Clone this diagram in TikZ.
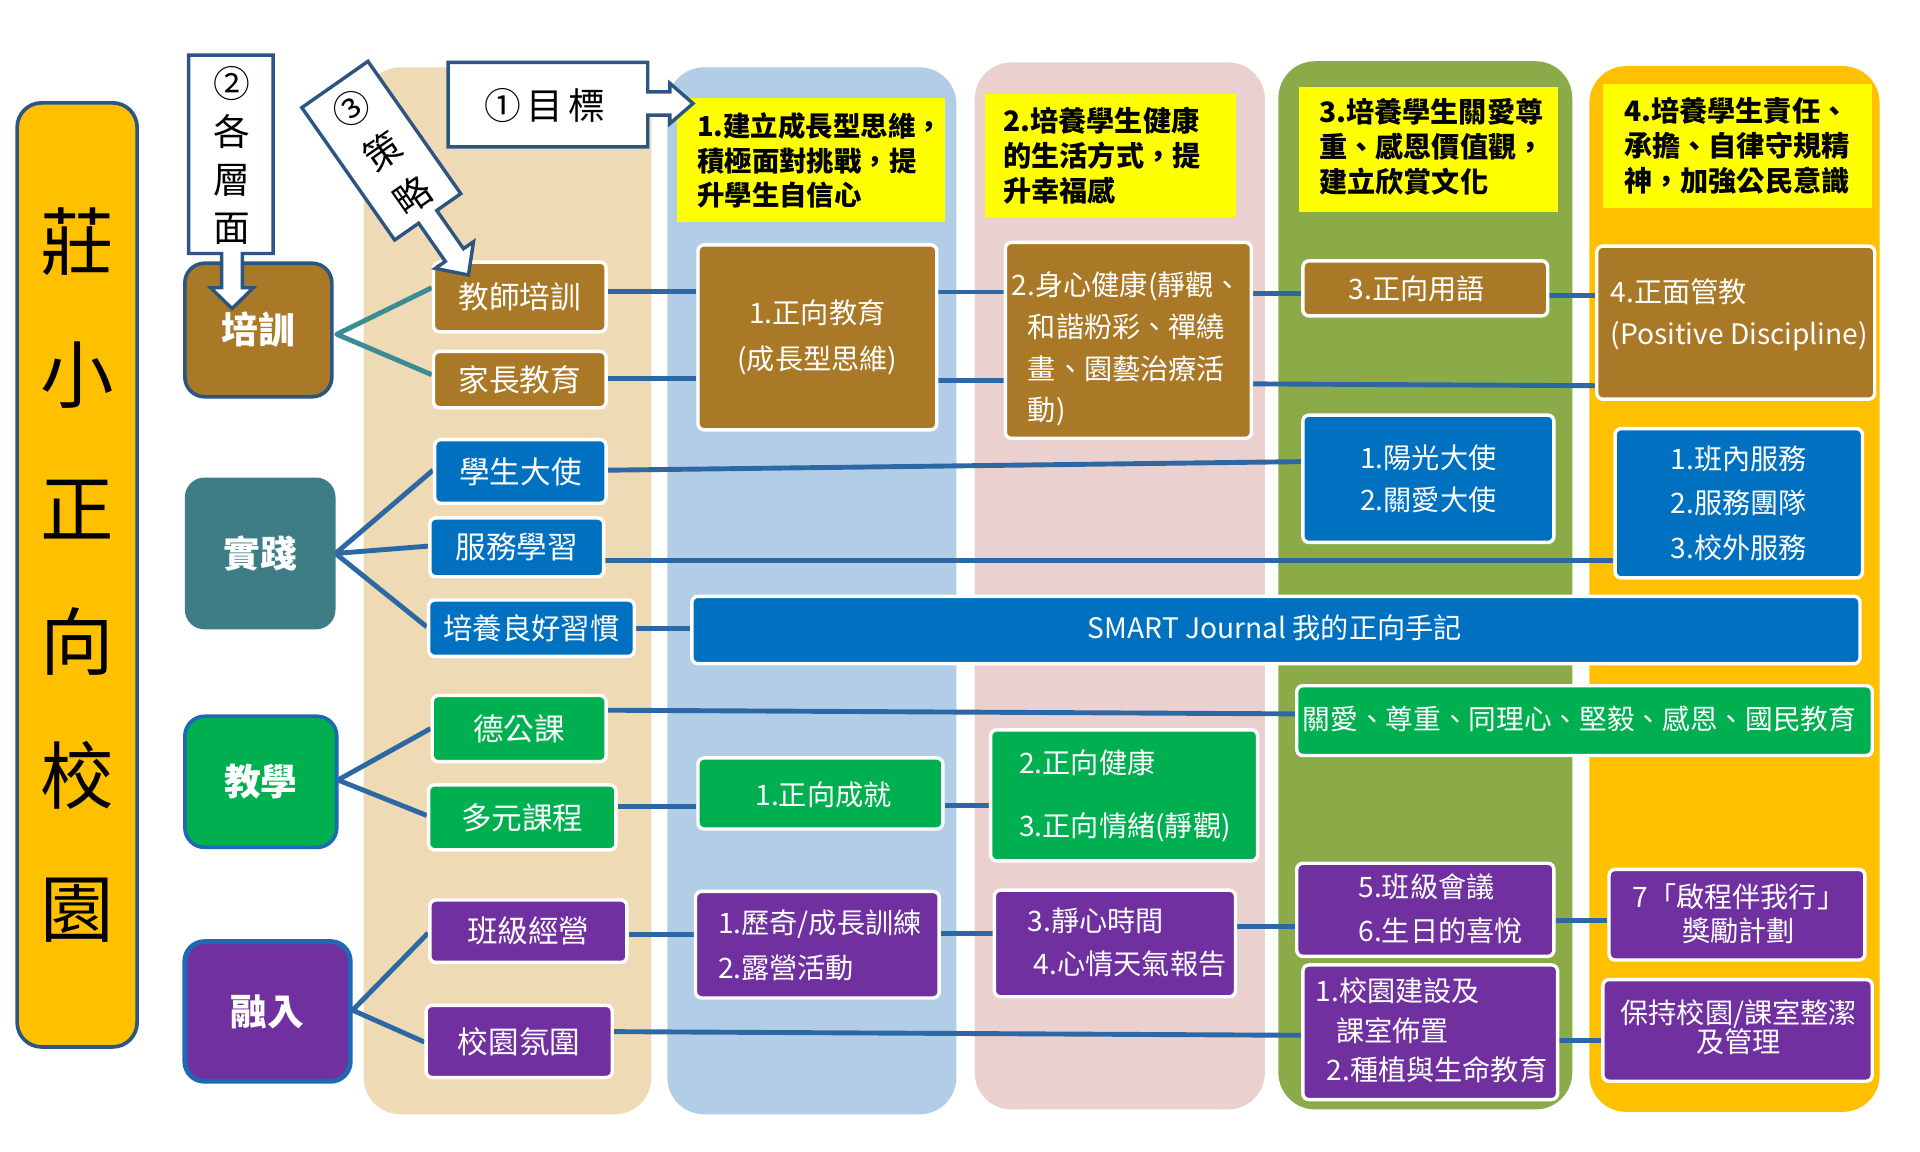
\documentclass[tikz,border=0pt]{standalone}
\usepackage{fontspec}
\setmainfont{Noto Sans CJK TC}
\usetikzlibrary{calc}
\definecolor{cbrn}{RGB}{170,121,40}
\definecolor{cblu}{RGB}{0,112,192}
\definecolor{cgrn}{RGB}{0,176,80}
\definecolor{cpur}{RGB}{112,48,160}
\definecolor{cteal}{RGB}{62,124,134}
\definecolor{corg}{RGB}{255,192,0}
\definecolor{cyel}{RGB}{255,255,0}
\definecolor{bgbeige}{RGB}{238,218,180}
\definecolor{bgblue}{RGB}{178,205,230}
\definecolor{bgpink}{RGB}{235,208,208}
\definecolor{bgolive}{RGB}{139,170,72}
\definecolor{bgorg}{RGB}{255,192,0}
\definecolor{cline}{RGB}{46,104,164}
\definecolor{ctline}{RGB}{60,140,150}
\definecolor{cnavy}{RGB}{45,85,130}
\definecolor{cedge}{RGB}{30,105,180}
\pgfdeclarelayer{bg}
\pgfdeclarelayer{lines}
\pgfsetlayers{bg,lines,main}
\newcommand\bx[7]{\node[#6, minimum width={(#4-(#2))*0.5}, minimum height={(#5-(#3))*0.5}] (#1) at ({(#2+#4)/2},{(#3+#5)/2}) {#7};}
\tikzset{
  box/.style={draw=white, line width=1.4pt, rounded corners=2.5pt, inner sep=0pt, text=white, font=\fontsize{11.5}{17}\selectfont, align=center},
  sbox/.style={box, font=\fontsize{12.5}{15}\selectfont},
  goal/.style={fill=cyel, inner sep=0pt},
  gtxt/.style={anchor=west, align=left, inner sep=0pt, font=\bfseries\fontsize{11.5}{14.2}\selectfont, text=black},
  ttxt/.style={inner sep=0pt, text=white, font=\fontsize{11.5}{17}\selectfont},
  layerbox/.style={rounded corners=8pt, line width=1.5pt, inner sep=0pt, text=white, font=\bfseries\fontsize{15}{18}\selectfont},
  cn/.style={draw=cline, line width=2pt, line join=round},
  tcn/.style={draw=ctline, line width=2pt, line join=round},
  callout/.style={fill=white, draw=cnavy, line width=1.4pt, line join=miter},
  calltext/.style={inner sep=0pt, font=\fontsize{15}{19.5}\selectfont, text=black, align=center},
}
\begin{document}
\begin{tikzpicture}[x=0.5pt,y=-0.5pt]
\useasboundingbox (0,0) rectangle (1568,940.8);
\begin{pgfonlayer}{bg}
\fill[white] (0,0) rectangle (1568,940.8);
\fill[bgbeige, rounded corners=15pt] (297,55) rectangle (532,910);
\fill[bgblue, rounded corners=15pt] (545,55) rectangle (781,910);
\fill[bgpink, rounded corners=15pt] (796,51) rectangle (1033,906);
\fill[bgolive, rounded corners=15pt] (1044,50) rectangle (1284,906);
\fill[bgorg, rounded corners=15pt] (1298,54) rectangle (1535,908);
\end{pgfonlayer}

% title
\bx{title}{14}{84}{112}{855}{fill=corg, draw=cnavy, line width=1.5pt, rounded corners=10pt, inner sep=0pt, align=center, font=\fontsize{30}{54.5}\selectfont}{莊\\小\\正\\向\\校\\園}

% goals
\bx{g1}{553}{80}{772}{181}{goal}{}
\node[gtxt, font=\bfseries\fontsize{11.2}{14.2}\selectfont] (g1t) at (569,131) {1.建立成長型思維，\\積極面對挑戰，提\\升學生自信心};
\bx{g2}{804}{77}{1009}{177}{goal}{}
\node[gtxt] (g2t) at (819,127) {2.培養學生健康\\的生活方式，提\\升幸福感};
\bx{g3}{1061}{71}{1272}{173}{goal}{}
\node[gtxt] (g3t) at (1077,120) {3.培養學生關愛尊\\重、感恩價值觀，\\建立欣賞文化};
\bx{g4}{1309}{69}{1529}{170}{goal}{}
\node[gtxt] (g4t) at (1326,119) {4.培養學生責任、\\承擔、自律守規精\\神，加強公民意識};

% layer boxes
\bx{px}{151}{215}{271}{324}{layerbox, fill=cbrn, draw=cnavy}{培訓}
\bx{sj}{151}{390}{274}{514}{layerbox, fill=cteal}{實踐}
\bx{jxue}{151}{585}{275}{692}{layerbox, fill=cgrn, draw=cedge}{教學}
\bx{rr}{151}{769}{286}{883}{layerbox, fill=cpur, draw=cedge, line width=2pt}{融入}

% strategy boxes
\bx{tt}{354}{214}{495}{271}{sbox, fill=cbrn}{教師培訓}
\bx{pe}{354}{287}{495}{333}{sbox, fill=cbrn}{家長教育}
\bx{sa}{355}{359}{495}{411}{sbox, fill=cblu}{學生大使}
\bx{sl}{351}{423}{493}{471}{sbox, fill=cblu}{服務學習}
\bx{gh}{350}{490}{518}{536}{sbox, fill=cblu, font=\fontsize{12}{15}\selectfont}{培養良好習慣}
\bx{dg}{353}{568}{495}{622}{sbox, fill=cgrn}{德公課}
\bx{dy}{350}{641}{503}{694}{sbox, fill=cgrn}{多元課程}
\bx{bj}{351}{735}{512}{786}{sbox, fill=cpur}{班級經營}
\bx{xy}{348}{821}{500}{880}{sbox, fill=cpur}{校園氛圍}

% column boxes
\bx{pe1}{570}{200}{765}{351}{box, fill=cbrn, font=\fontsize{11.5}{19}\selectfont}{1.正向教育\\(成長型思維)}
\bx{bm}{821}{198}{1022}{358}{box, fill=cbrn}{}
\node[ttxt, anchor=west, align=left] (bmt) at (826,285) {2.身心健康(靜觀、\\\hspace*{6.5pt}和諧粉彩、禪繞\\\hspace*{6.5pt}畫、園藝治療活\\\hspace*{6.5pt}動)};
\bx{zy}{1064}{213}{1264}{258}{box, fill=cbrn}{}
\node[ttxt] (zyt) at (1157,235.5) {3.正向用語};
\bx{zg}{1304}{201}{1531}{326}{box, fill=cbrn}{}
\node[ttxt, anchor=west, align=left, font=\fontsize{11.5}{17.25}\selectfont] (zgt) at (1315,257) {4.正面管教\\(Positive Discipline)};
\bx{yg}{1064}{339}{1269}{443}{box, fill=cblu, font=\fontsize{11.5}{17.5}\selectfont}{1.陽光大使\\2.關愛大使}
\bx{bn}{1319}{350}{1521}{472}{box, fill=cblu, font=\fontsize{11.5}{18}\selectfont}{1.班內服務\\2.服務團隊\\3.校外服務}
\bx{sm}{565}{487}{1519}{542}{box, fill=cblu}{}
\node[ttxt] (smt) at (1041,512.5) {SMART Journal 我的正向手記};
\bx{gy}{1059}{560}{1529}{617}{box, fill=cgrn}{}
\node[ttxt, font=\fontsize{11.3}{17}\selectfont] (gyt) at (1290,587) {關愛、尊重、同理心、堅毅、感恩、國民教育};
\bx{zc}{570}{619}{770}{677}{box, fill=cgrn}{}
\node[ttxt] (zct) at (672.5,649) {1.正向成就};
\bx{zj}{809}{596}{1027}{703}{box, fill=cgrn}{}
\node[ttxt, anchor=west, align=left, font=\fontsize{11.5}{25.5}\selectfont] (zjt) at (832,650) {2.正向健康\\3.正向情緒(靜觀)};
\bx{lq}{568}{728}{767}{815}{box, fill=cpur}{}
\node[ttxt, anchor=west, align=left, font=\fontsize{11.5}{18}\selectfont] (lqt) at (586,772) {1.歷奇/成長訓練\\2.露營活動};
\bx{jx}{812}{727}{1009}{814}{box, fill=cpur}{}
\node[ttxt, anchor=west, align=left, font=\fontsize{11.5}{17.5}\selectfont] (jxt) at (839,769.5) {3.靜心時間\\\hspace*{2.5pt}4.心情天氣報告};
\bx{bh}{1059}{705}{1269}{781}{box, fill=cpur}{}
\node[ttxt, anchor=west, align=left, font=\fontsize{11.5}{18}\selectfont] (bht) at (1109,742) {5.班級會議\\6.生日的喜悅};
\bx{xj}{1064}{788}{1272}{898}{box, fill=cpur}{}
\node[ttxt, anchor=west, align=left, font=\fontsize{11.5}{16.25}\selectfont] (xjt) at (1074,841.5) {1.校園建設及\\\hspace*{8.5pt}課室佈置\\\hspace*{4.5pt}2.種植與生命教育};
\bx{qc}{1314}{710}{1523}{784}{box, fill=cpur}{}
\node[ttxt, align=center, font=\fontsize{11.5}{14}\selectfont] (qct) at (1420,746) {7「啟程伴我行」\\獎勵計劃};
\bx{bc}{1309}{800}{1529}{883}{box, fill=cpur}{}
\node[ttxt, align=center, font=\fontsize{11.5}{12}\selectfont] (bct) at (1420,839) {保持校園/課室整潔\\及管理};

% fan origins
\coordinate (pxo) at (275,273);
\coordinate (sjo) at (274,452);
\coordinate (jxo) at (276,637);
\coordinate (rro) at (288,825);

\begin{pgfonlayer}{lines}
\draw[tcn] (tt.west |- 0,235) -- (pxo) -- (pe.west |- 0,306);
\draw[cn] (sa.west |- 0,384) -- (sjo) -- (sl.west |- 0,446);
\draw[cn] (sjo) -- (gh.west |- 0,512);
\draw[cn] (dg.west |- 0,595) -- (jxo) -- (dy.west |- 0,666);
\draw[cn] (bj.west |- 0,762) -- (rro) -- (xy.west |- 0,851);
% row connectors
\draw[cn] (tt.east |- 0,238) -- (pe1.west |- 0,238);
\draw[cn] (pe1.east |- 0,238.5) -- (bm.west |- 0,238.5);
\draw[cn] (bm.east |- 0,240) -- (zy.west |- 0,240);
\draw[cn] (zy.east |- 0,241) -- (zg.west |- 0,241);
\draw[cn] (pe.east |- 0,309) -- (pe1.west |- 0,309);
\draw[cn] (pe1.east |- 0,310.5) -- (bm.west |- 0,310.5);
\draw[cn] (bm.east |- 0,313.5) -- (zg.west |- 0,315);
\draw[cn] (sa.east |- 0,384) -- (yg.west |- 0,377);
\draw[cn] (sl.east |- 0,457.5) -- (bn.west |- 0,457.5);
\draw[cn] (gh.east |- 0,513) -- (sm.west |- 0,513);
\draw[cn] (dg.east |- 0,580) -- (gy.west |- 0,583);
\draw[cn] (dy.east |- 0,659) -- (zc.west |- 0,659);
\draw[cn] (zc.east |- 0,658) -- (zj.west |- 0,658);
\draw[cn] (bj.east |- 0,763.5) -- (lq.west |- 0,763.5);
\draw[cn] (lq.east |- 0,762) -- (jx.west |- 0,762);
\draw[cn] (jx.east |- 0,757) -- (bh.west |- 0,757);
\draw[cn] (bh.east |- 0,752) -- (qc.west |- 0,752);
\draw[cn] (xy.east |- 0,842.5) -- (xj.west |- 0,845.5);
\draw[cn] (xj.east |- 0,850) -- (bc.west |- 0,850);
\end{pgfonlayer}

% callout arrows
\draw[callout] (154,45) -- (223,45) -- (223,207) -- (198,207) -- (198,235) -- (207,235) -- (189.5,252) -- (172,235) -- (181,235) -- (181,207) -- (154,207) -- cycle;
\node[calltext] (c2t) at (189.5,127) {②\\各\\層\\面};

\draw[callout] (366,51) -- (529,51) -- (529,75) -- (547,75) -- (547,68) -- (566,84.5) -- (547,101) -- (547,94) -- (529,94) -- (529,120) -- (366,120) -- cycle;
\node[calltext] (c1t) at (445,86) {①\hspace{2pt}目\hspace{2pt}標};

\draw[callout] (300.5,50.1) -- (376.3,158.2) -- (356.7,171.9) -- (378.5,203.1) -- (386.7,197.4) -- (382.6,224.6) -- (355.5,219.2) -- (363.7,213.5) -- (341.9,182.3) -- (322.3,196.0) -- (246.5,87.9) -- cycle;
\node[calltext, rotate=35, font=\fontsize{15}{21.5}\selectfont] (c3t) at (312,124) {③\\策\\略};
\end{tikzpicture}
\end{document}
